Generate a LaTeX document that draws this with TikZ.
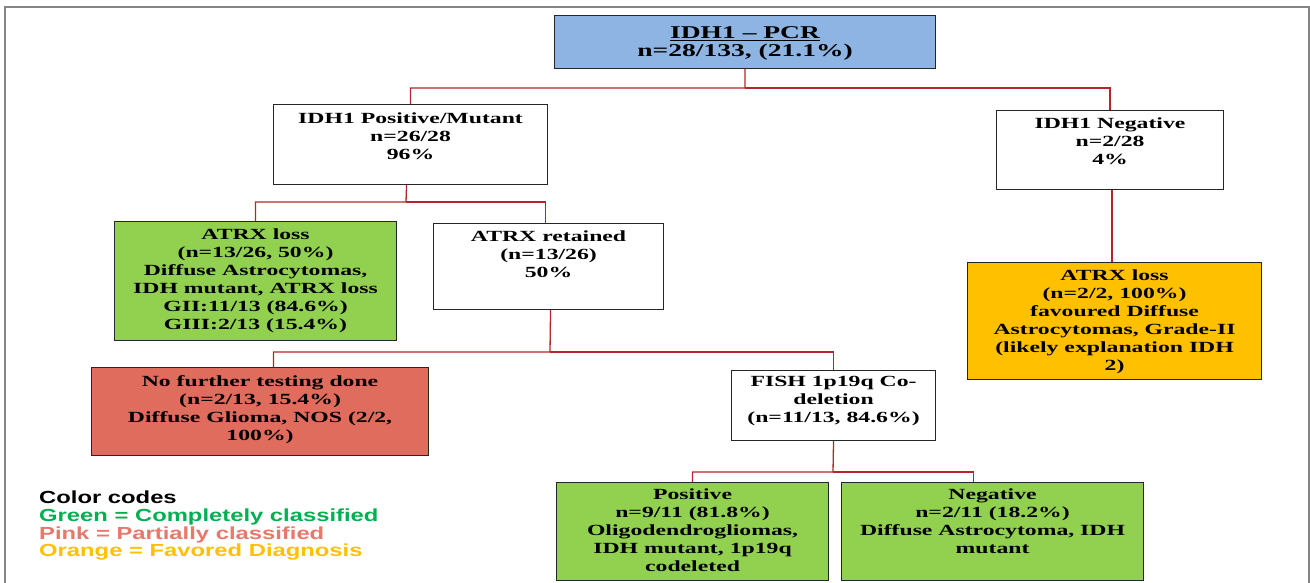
\documentclass[tikz,border=0pt]{standalone}
\usepackage{fontspec}
\newfontfamily\tnr{Liberation Serif}[FakeStretch=1.53]
\newfontfamily\ars{Liberation Sans}[FakeStretch=1.36]
\definecolor{connred}{HTML}{B5262C}
\definecolor{bluefill}{HTML}{8DB4E2}
\definecolor{greenfill}{HTML}{92D050}
\definecolor{orangefill}{HTML}{FFC000}
\definecolor{pinkfill}{HTML}{E06C5E}
\definecolor{leggreen}{HTML}{00B050}
\definecolor{legpink}{HTML}{E6786C}
\definecolor{legorange}{HTML}{FFC000}
\definecolor{framegray}{HTML}{858585}
\newcommand{\boxtext}[4]{\parbox[c][#2][t]{#1}{\centering\rule{0pt}{#3}#4\par}}
\tikzset{
  box/.style={draw=black!85, line width=1.1pt, inner sep=0pt, anchor=north west,
    font=\tnr\bfseries\fontsize{15.5}{17.9}\selectfont},
  conn/.style={draw=connred, line width=1.3pt},
  leg/.style={anchor=west, inner sep=0pt, text height=12pt, text depth=3pt,
    font=\ars\bfseries\fontsize{17.5}{18}\selectfont}
}
\begin{document}
\begin{tikzpicture}[x=1pt,y=-1pt]
\useasboundingbox (0,0) rectangle (1310,583);
% outer frame
\draw[framegray, line width=2.5pt] (5,600) -- (5,7) -- (1309,7) -- (1309,600);

% boxes
\node[box, fill=bluefill, font=\tnr\bfseries\fontsize{18}{18}\selectfont] (pcr) at (554,15)
  {\boxtext{381pt}{53pt}{23pt}{\underline{IDH1 – PCR}\\n=28/133, (21.1\%)}};
\node[box, fill=white] (pos) at (273,104)
  {\boxtext{274pt}{80pt}{19pt}{IDH1 Positive/Mutant\\n=26/28\\96\%}};
\node[box, fill=white] (neg) at (996,110)
  {\boxtext{227pt}{79pt}{18pt}{IDH1 Negative\\n=2/28\\4\%}};
\node[box, fill=greenfill] (loss) at (114,221)
  {\boxtext{282pt}{119pt}{18pt}{ATRX loss\\(n=13/26, 50\%)\\Diffuse Astrocytomas,\\IDH mutant, ATRX loss\\GII:11/13 (84.6\%)\\GIII:2/13 (15.4\%)}};
\node[box, fill=white] (ret) at (433,223)
  {\boxtext{230pt}{86pt}{18pt}{ATRX retained\\(n=13/26)\\50\%}};
\node[box, fill=orangefill] (fav) at (967,262)
  {\boxtext{294pt}{117pt}{18pt}{ATRX loss\\(n=2/2, 100\%)\\favoured Diffuse\\Astrocytomas, Grade-II\\(likely explanation IDH\\2)}};
\node[box, fill=pinkfill] (nft) at (91,367)
  {\boxtext{337pt}{88pt}{19pt}{No further testing done\\(n=2/13, 15.4\%)\\Diffuse Glioma, NOS (2/2,\\100\%)}};
\node[box, fill=white] (fish) at (731,370)
  {\boxtext{204pt}{70pt}{16pt}{FISH 1p19q Co-\\deletion\\(n=11/13, 84.6\%)}};
\node[box, fill=greenfill] (posv) at (556,482)
  {\boxtext{272pt}{98pt}{17pt}{Positive\\n=9/11 (81.8\%)\\Oligodendrogliomas,\\IDH mutant, 1p19q\\codeleted}};
\node[box, fill=greenfill] (negv) at (841,482)
  {\boxtext{302pt}{98pt}{17pt}{Negative\\n=2/11 (18.2\%)\\Diffuse Astrocytoma, IDH\\mutant}};

% connectors
\coordinate (j1) at (745,88);
\draw[conn] (pcr.south) -- (j1) -| (pos.north);
\draw[conn] (j1) -| (neg.north);
\coordinate (j2) at (406,202);
\draw[conn] ([xshift=-4pt]pos.south) -- (j2) -| (loss.north);
\draw[conn] (j2) -| ([xshift=-3pt]ret.north);
\draw[conn] ([xshift=2pt]neg.south) -- ([xshift=2pt]neg.south |- fav.north);
\coordinate (j3) at (550,352);
\draw[conn] ([xshift=2pt]ret.south) -- (j3) -| ([xshift=13.5pt]nft.north);
\draw[conn] (j3) -| (fish.north);
\coordinate (j4) at (833,472);
\draw[conn] (fish.south) -- (j4) -| (posv.north);
\draw[conn] (j4) -| ([xshift=-19pt]negv.north);

% legend
\node[leg, text=black] (lg0) at (39,499) {Color codes};
\node[leg, text=leggreen] (lg1) at (39,517) {Green = Completely classified};
\node[leg, text=legpink] (lg2) at (39,535) {Pink = Partially classified};
\node[leg, text=legorange] (lg3) at (39,552) {Orange = Favored Diagnosis};
\end{tikzpicture}
\end{document}
